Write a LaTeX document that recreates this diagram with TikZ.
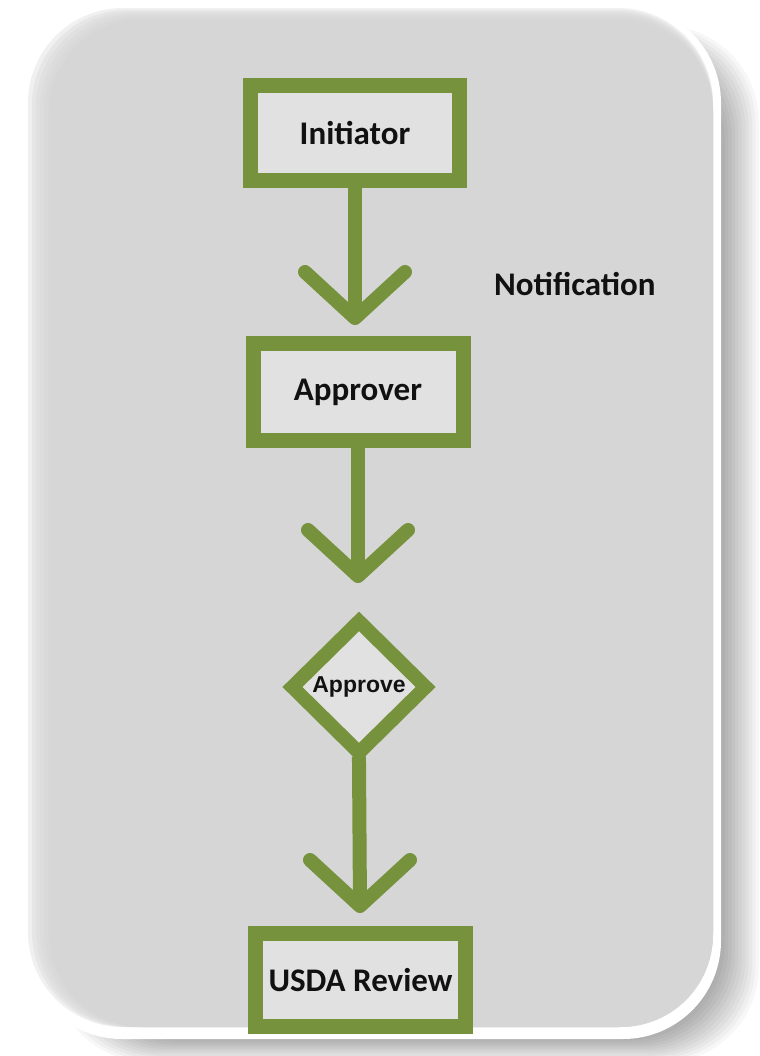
\documentclass[tikz,border=0pt]{standalone}
\usepackage{fontspec}
\setmainfont{Carlito}
\newfontfamily\smallsans{Liberation Sans}
\usetikzlibrary{shapes.geometric,calc}
\definecolor{leaf}{HTML}{76923C}
\definecolor{panel}{HTML}{D6D6D6}
\definecolor{boxfill}{HTML}{E1E1E1}
\definecolor{ink}{HTML}{111111}
\begin{document}
\begin{tikzpicture}[x=1bp,y=-1bp,
  stepbox/.style={rectangle, draw=leaf, line width=15bp, fill=boxfill, inner sep=0pt,
    text=ink, font=\fontsize{33bp}{38bp}\selectfont\bfseries},
  decision/.style={diamond, aspect=1, draw=leaf, line width=14bp, fill=boxfill, inner sep=0pt,
    text=ink, font=\smallsans\fontsize{23bp}{26bp}\selectfont\bfseries},
  conn/.style={draw=leaf, line width=14bp},
  barb/.style={draw=leaf, line width=14bp, line cap=round, line join=round},
  note/.style={text=ink, inner sep=0pt, font=\fontsize{33bp}{38bp}\selectfont\bfseries}]
\useasboundingbox (0,0) rectangle (760,1056);
\fill[white] (0,0) rectangle (760,1056);

% soft drop shadow to the right and below the panel
\foreach \k in {0,...,12}
  \fill[black, opacity=0.032, rounded corners=95bp]
    ({90-3*\k},{50-2*\k}) rectangle ({718+3.4*\k},{1036+2.2*\k});

% light rim around the panel
\fill[white, rounded corners=98bp] (24,5) rectangle (721,1039);

% grey panel, feathered on the left and top
\foreach \k in {0,...,5}
  \fill[panel, opacity=0.35, rounded corners=95bp]
    ({28+4*\k},{8+2*\k}) rectangle (713,1027);
\fill[panel, rounded corners=92bp] (50,20) rectangle (713,1027);

% flow steps
\node[stepbox, minimum width=209bp, minimum height=95bp] (init) at (355,133) {Initiator};
\node[note, anchor=west] (notif) at (494,284) {Notification};
\node[stepbox, minimum width=210bp, minimum height=97bp] (appr) at (358,392) {Approver};
\node[decision, minimum width=139bp, minimum height=137bp] (dec) at (359,687) {Approve};
\node[stepbox, minimum width=210bp, minimum height=93bp] (usda) at (360.5,980) {USDA Review};

% connectors with open chevron heads
\coordinate (t1) at (355,318);
\coordinate (t2) at (358,576);
\coordinate (t3) at (360,906);
\draw[conn] (init.south) -- (t1);
\draw[conn] (appr.south) -- (t2);
\draw[conn, shorten <=-6bp] (dec.south) -- (t3);
\foreach \t in {t1,t2,t3}
  \draw[barb] ($(\t)+(-50,-46)$) -- (\t) -- ($(\t)+(50,-46)$);
\end{tikzpicture}
\end{document}
